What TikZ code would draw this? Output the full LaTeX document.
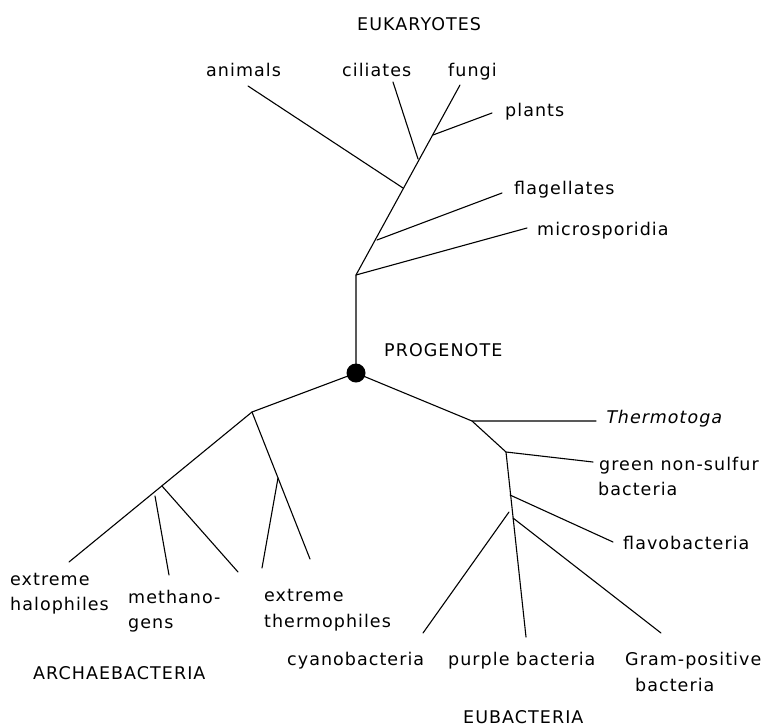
\documentclass[tikz,border=0pt]{standalone}
\usepackage{fontspec}
\setmainfont{DejaVu Sans}[LetterSpace=6]
\newfontfamily\itfont{DejaVu Sans}[LetterSpace=6,FakeSlant=0.2]
\begin{document}
\begin{tikzpicture}[x=1pt,y=-1pt,
  lbl/.style={anchor=base west,inner sep=0pt,font=\fontsize{17.5}{20}\selectfont},
  br/.style={line width=1.1pt,line cap=round}]
\useasboundingbox (0,0) rectangle (774,726);
% coordinates
\coordinate (root) at (356,373);
\coordinate (e0) at (356,275);
\coordinate (eF) at (460,85);
\coordinate (jP) at (433,135);
\coordinate (eP) at (492,113);
\coordinate (jC) at (418,159);
\coordinate (eC) at (393,82);
\coordinate (jA) at (403,188);
\coordinate (eA) at (248,86);
\coordinate (jFl) at (377,240);
\coordinate (eFl) at (502,193);
\coordinate (eM) at (527,228);
% archaea
\coordinate (jAr) at (252,412);
\coordinate (eH) at (69,562);
\coordinate (jMe) at (162,486);
\coordinate (mS) at (155,496);
\coordinate (mE) at (169,575);
\coordinate (mE2) at (238,572);
\coordinate (eTh) at (310,559);
\coordinate (jTh) at (278,478);
\coordinate (eTh2) at (262,568);
% eubacteria
\coordinate (jEu) at (472,421);
\coordinate (eTt) at (596,421);
\coordinate (jG) at (506,452);
\coordinate (eG) at (593,462);
\coordinate (ePu) at (526,637);
\coordinate (jFv) at (510,495);
\coordinate (eFv) at (613,542);
\coordinate (jGp) at (513,518);
\coordinate (eGp) at (661,633);
\coordinate (cS) at (509,512);
\coordinate (cE) at (423,633);
% eukaryote branches
\draw[br] (root) -- (e0) -- (eF);
\draw[br] (jP) -- (eP);
\draw[br] (jC) -- (eC);
\draw[br] (jA) -- (eA);
\draw[br] (jFl) -- (eFl);
\draw[br] (e0) -- (eM);
% archaea branches
\draw[br] (root) -- (jAr) -- (eH);
\draw[br] (mS) -- (mE);
\draw[br] (jMe) -- (mE2);
\draw[br] (jAr) -- (eTh);
\draw[br] (jTh) -- (eTh2);
% eubacteria branches
\draw[br] (root) -- (jEu) -- (eTt);
\draw[br] (jEu) -- (jG) -- (eG);
\draw[br] (jG) -- (ePu);
\draw[br] (jFv) -- (eFv);
\draw[br] (jGp) -- (eGp);
\draw[br] (cS) -- (cE);
% progenote dot
\node[circle,fill=black,minimum size=19pt,inner sep=0pt] (prog) at (root) {};
% labels
\node[lbl] (tEuk) at (357,30) {EUKARYOTES};
\node[lbl] (tAni) at (206,76) {animals};
\node[lbl] (tCil) at (342,76) {ciliates};
\node[lbl] (tFun) at (448,76) {fungi};
\node[lbl] (tPla) at (505,116.5) {plants};
\node[lbl] (tFla) at (514,194.3) {flagellates};
\node[lbl] (tMic) at (537,235) {microsporidia};
\node[lbl] (tPro) at (384,356) {PROGENOTE};
\node[lbl,font=\fontsize{17.5}{20}\itfont] (tThe) at (605,423.3) {Thermotoga};
\node[lbl] (tGre) at (599,470) {green non-sulfur};
\node[lbl] (tGre2) at (598,495) {bacteria};
\node[lbl] (tFlv) at (623,549.3) {flavobacteria};
\node[lbl] (tCya) at (287,665) {cyanobacteria};
\node[lbl] (tPur) at (448,665) {purple bacteria};
\node[lbl] (tGra) at (625,665) {Gram-positive};
\node[lbl] (tGra2) at (635,691) {bacteria};
\node[lbl] (tEub) at (463,723) {EUBACTERIA};
\node[lbl] (tHal) at (10,585) {extreme};
\node[lbl] (tHal2) at (10,610.7) {halophiles};
\node[lbl] (tMet) at (128,603.3) {methano-};
\node[lbl] (tMet2) at (128,628.3) {gens};
\node[lbl] (tThm) at (264,601.7) {extreme};
\node[lbl] (tThm2) at (264,627.7) {thermophiles};
\node[lbl] (tArc) at (33,679.3) {ARCHAEBACTERIA};
\end{tikzpicture}
\end{document}
